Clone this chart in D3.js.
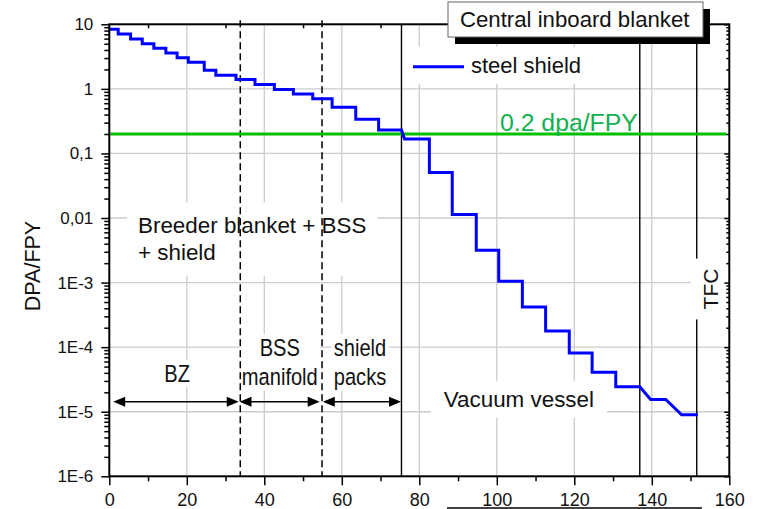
<!DOCTYPE html>
<html>
<head>
<meta charset="utf-8">
<script src="https://cdn.jsdelivr.net/npm/d3@7"></script>
<style>
    body { margin: 0; background: #fff; }
    svg { display: block; font-family: "Liberation Sans", Arial, sans-serif; }
</style>
</head>
<body>
<svg id="chart" width="758" height="509"></svg>
<script>
// Steel shield step profile: depth (cm) and DPA/FPY
const stepStart = [0, 2.3, 5.5, 8.5, 11.5, 14.6, 17.5, 20.4, 24.5, 27.5, 32.7, 37.6, 42.6, 47.5, 52.5,
    57.5, 63.6, 69.5, 76.2, 82.6, 88.5, 94.7, 100.5, 106.6, 112.6, 118.7, 124.6, 130.7, 139.7, 147.7];
const stepEnd = [2.3, 5.5, 8.5, 11.5, 14.6, 17.5, 20.4, 24.5, 27.5, 32.7, 37.6, 42.6, 47.5, 52.5, 57.5,
    63.6, 69.5, 75.4, 82.6, 88.5, 94.7, 100.5, 106.6, 112.6, 118.7, 124.6, 130.7, 136.9, 143.6, 151.9];
const stepValue = [8.4, 7.1, 5.9, 5.0, 4.25, 3.6, 3.03, 2.58, 1.95, 1.62, 1.40, 1.17, 0.98, 0.83, 0.70,
    0.52, 0.34, 0.23, 0.167, 0.0507, 0.0113, 0.00317, 0.00105, 4.19e-4, 1.78e-4, 8.1e-5, 4.07e-5, 2.44e-5, 1.55e-5, 8.97e-6];

const xTicks = [0, 20, 40, 60, 80, 100, 120, 140, 160];
const xMinorTicks = [10, 30, 50, 70, 90, 110, 130, 150];
const yTicks = [1e-6, 1e-5, 1e-4, 1e-3, 0.01, 0.1, 1, 10];
const yTickLabels = ['1E-6', '1E-5', '1E-4', '1E-3', '0,01', '0,1', '1', '10'];

const zoneBounds = [33.8, 54.9];           // dashed lines
const layerBounds = [75.4, 136.9, 151.6];  // solid lines
const zoneArrows = [[1, 33.4], [33.6, 54.3], [55.1, 75.3]];
const zoneNames = [['BZ'], ['BSS', 'manifold'], ['shield', 'packs']];
const limitValue = 0.2;

const svg = d3.select('#chart');

const x = d3.scaleLinear().domain([0, 160]).range([109.3, 729.3]);
const y = d3.scaleLog().domain([1e-6, 10]).range([476.3, 24.3]);

const plotLeft = x(0), plotRight = x(160), plotTop = y(10), plotBottom = y(1e-6);

// minor log ticks 2..9 per decade
const yMinor = [];
for (let e = -6; e < 1; e++) {
    for (let k = 2; k <= 9; k++) yMinor.push(k * Math.pow(10, e));
}

// grid
svg.append('g')
    .selectAll('line')
    .data(xTicks.slice(1, -1))
    .join('line')
    .attr('x1', d => x(d)).attr('x2', d => x(d))
    .attr('y1', plotTop).attr('y2', plotBottom)
    .attr('stroke', '#cccccc').attr('stroke-width', 1.3);

svg.append('g')
    .selectAll('line')
    .data(yTicks.slice(1, -1))
    .join('line')
    .attr('x1', plotLeft).attr('x2', plotRight)
    .attr('y1', d => y(d)).attr('y2', d => y(d))
    .attr('stroke', '#cccccc').attr('stroke-width', 1.3);

// put a white box behind a group of texts
function boxBehind(g, padX, padY) {
    const b = g.node().getBBox();
    g.insert('rect', ':first-child')
        .attr('x', b.x - padX).attr('y', b.y - padY)
        .attr('width', b.width + 2 * padX).attr('height', b.height + 2 * padY)
        .attr('fill', '#fff');
}

// region labels
const breeder = svg.append('g').attr('font-size', 22.4).attr('fill', '#111');
breeder.append('text').attr('x', 138).attr('y', 233.3).text('Breeder blanket + BSS');
breeder.append('text').attr('x', 138).attr('y', 260).text('+ shield');
boxBehind(breeder, 11, 11);

const vessel = svg.append('g').attr('font-size', 22.4).attr('fill', '#111');
vessel.append('text').attr('x', x(105.7)).attr('y', 406.7)
    .attr('text-anchor', 'middle').text('Vacuum vessel');
boxBehind(vessel, 13, 6);

// narrow labels above the arrows
const zoneLabelX = [17.5, 44, 64.7];
zoneNames.forEach((lines, i) => {
    const g = svg.append('g')
        .attr('transform', `translate(${x(zoneLabelX[i])},0) scale(0.82,1)`)
        .attr('font-size', 24.5).attr('fill', '#111').attr('text-anchor', 'middle');
    const base = lines.length === 1 ? 381.7 : 356;
    lines.forEach((t, j) => {
        g.append('text').attr('x', 0).attr('y', base + j * 29).text(t);
    });
    boxBehind(g, 3, 0);
});

// zone boundaries
svg.append('g')
    .selectAll('line')
    .data(zoneBounds)
    .join('line')
    .attr('x1', d => x(d)).attr('x2', d => x(d))
    .attr('y1', plotTop - 4).attr('y2', plotBottom)
    .attr('stroke', '#000').attr('stroke-width', 1.5)
    .attr('stroke-dasharray', '7,4');

svg.append('g')
    .selectAll('line')
    .data(layerBounds)
    .join('line')
    .attr('x1', d => x(d)).attr('x2', d => x(d))
    .attr('y1', plotTop).attr('y2', plotBottom)
    .attr('stroke', '#000').attr('stroke-width', 1.4);

// double-headed arrows
const arrowY = 401.7;
const arrows = svg.append('g');
zoneArrows.forEach(([a, b]) => {
    const x0 = x(a), x1 = x(b);
    arrows.append('line')
        .attr('x1', x0 + 6).attr('x2', x1 - 6)
        .attr('y1', arrowY).attr('y2', arrowY)
        .attr('stroke', '#000').attr('stroke-width', 1.6);
    arrows.append('path')
        .attr('d', `M${x0},${arrowY}L${x0 + 12},${arrowY - 5}L${x0 + 12},${arrowY + 5}Z`)
        .attr('fill', '#000');
    arrows.append('path')
        .attr('d', `M${x1},${arrowY}L${x1 - 12},${arrowY - 5}L${x1 - 12},${arrowY + 5}Z`)
        .attr('fill', '#000');
});

// TFC label
const tfc = svg.append('g')
    .attr('transform', `translate(718,289) rotate(-90)`)
    .attr('font-size', 21).attr('fill', '#111');
tfc.append('text').attr('x', 0).attr('y', 0).attr('text-anchor', 'middle').text('TFC');
boxBehind(tfc, 10, 8);

// 0.2 dpa/FPY limit
svg.append('line')
    .attr('x1', plotLeft + 1).attr('x2', plotRight - 3)
    .attr('y1', y(limitValue)).attr('y2', y(limitValue))
    .attr('stroke', '#00c000').attr('stroke-width', 3);

svg.append('text')
    .attr('x', 500).attr('y', 130.7)
    .attr('font-size', 24.8).attr('fill', '#10b050')
    .text('0.2 dpa/FPY');

// steel shield curve
const pts = [];
stepStart.forEach((s, i) => {
    pts.push([s, stepValue[i]]);
    pts.push([stepEnd[i], stepValue[i]]);
});

svg.append('path')
    .datum(pts)
    .attr('fill', 'none')
    .attr('stroke', '#0000ff')
    .attr('stroke-width', 3)
    .attr('stroke-linejoin', 'miter')
    .attr('d', d3.line().x(d => x(d[0])).y(d => y(d[1])));

// legend
const legend = svg.append('g');
legend.append('line')
    .attr('x1', 413).attr('x2', 464).attr('y1', 66.7).attr('y2', 66.7)
    .attr('stroke', '#0000ff').attr('stroke-width', 3);
legend.append('text')
    .attr('x', 471).attr('y', 72.7)
    .attr('font-size', 22).attr('fill', '#111')
    .text('steel shield');
boxBehind(legend, 8, 6);

// axes
function styleAxis(g) {
    g.select('.domain').remove();
    g.selectAll('.tick line').attr('stroke', '#000').attr('stroke-width', 1.5);
    g.selectAll('.tick text').attr('fill', '#111').attr('font-family', '"Liberation Sans", Arial, sans-serif');
}

svg.append('g')
    .attr('transform', `translate(0,${plotBottom})`)
    .call(d3.axisBottom(x).tickValues(xTicks).tickFormat(d3.format('d')).tickSize(9).tickPadding(8))
    .call(styleAxis)
    .selectAll('.tick text').attr('font-size', 18);

svg.append('g')
    .attr('transform', `translate(0,${plotBottom})`)
    .call(d3.axisBottom(x).tickValues(xMinorTicks).tickFormat('').tickSize(5))
    .call(styleAxis);

svg.append('g')
    .attr('transform', `translate(0,${plotTop})`)
    .call(d3.axisBottom(x).tickValues(xMinorTicks).tickFormat('').tickSize(4))
    .call(styleAxis);

svg.append('g')
    .attr('transform', `translate(${plotLeft},0)`)
    .call(d3.axisLeft(y).tickValues(yTicks).tickFormat((d, i) => yTickLabels[i]).tickSize(8).tickPadding(8))
    .call(styleAxis)
    .selectAll('.tick text').attr('font-size', 17);

svg.append('g')
    .attr('transform', `translate(${plotLeft},0)`)
    .call(d3.axisLeft(y).tickValues(yMinor).tickFormat('').tickSize(5))
    .call(styleAxis);

svg.append('g')
    .attr('transform', `translate(${plotRight},0)`)
    .call(d3.axisLeft(y).tickValues(yMinor).tickFormat('').tickSize(3))
    .call(styleAxis);

svg.append('g')
    .attr('transform', `translate(${plotRight},0)`)
    .call(d3.axisLeft(y).tickValues(yTicks).tickFormat('').tickSize(5))
    .call(styleAxis);

// frame
svg.append('rect')
    .attr('x', plotLeft).attr('y', plotTop)
    .attr('width', plotRight - plotLeft).attr('height', plotBottom - plotTop)
    .attr('fill', 'none').attr('stroke', '#000').attr('stroke-width', 2);

// y title
svg.append('text')
    .attr('transform', 'translate(40,266) rotate(-90)')
    .attr('text-anchor', 'middle')
    .attr('font-size', 21.5).attr('fill', '#111')
    .text('DPA/FPY');

// title box with shadow
svg.append('rect')
    .attr('x', 455).attr('y', 9).attr('width', 255).attr('height', 35)
    .attr('fill', '#000');
svg.append('rect')
    .attr('x', 448).attr('y', 2).attr('width', 255).attr('height', 35)
    .attr('fill', '#fff').attr('stroke', '#666').attr('stroke-width', 1);
svg.append('text')
    .attr('x', 460).attr('y', 26.7)
    .attr('font-size', 22.2).attr('fill', '#111')
    .text('Central inboard blanket');

// stray underline at the bottom edge
svg.append('line')
    .attr('x1', 447).attr('x2', 702).attr('y1', 508).attr('y2', 508)
    .attr('stroke', '#000').attr('stroke-width', 1.5);
</script>
</body>
</html>
